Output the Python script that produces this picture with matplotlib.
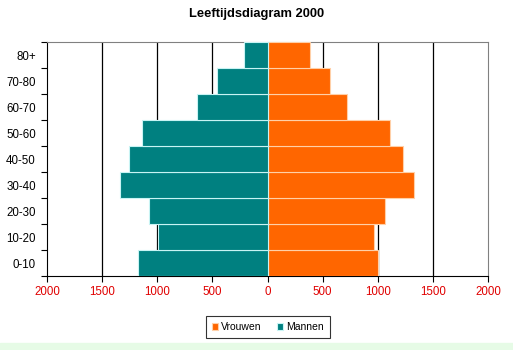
import numpy as np
import matplotlib.pyplot as plt
from matplotlib.patches import Rectangle

plt.rcParams['font.family'] = ['Liberation Sans', 'DejaVu Sans']

leeftijden = ['0-10', '10-20', '20-30', '30-40', '40-50', '50-60', '60-70', '70-80', '80+']
mannen = [1175, 992, 1075, 1335, 1255, 1135, 635, 455, 210]
vrouwen = [998, 965, 1065, 1328, 1228, 1115, 720, 565, 385]
xticks = [-2000, -1500, -1000, -500, 0, 500, 1000, 1500, 2000]

fig = plt.figure(figsize=(5.13, 3.5), dpi=100)
fig.patches.append(Rectangle((0, 0), 1, 0.02, transform=fig.transFigure,
                             color='#e6fbe6', zorder=0))
ax = fig.add_axes([0.0916, 0.2114, 0.8597, 0.6686])

y = np.arange(len(leeftijden))
ax.barh(y, vrouwen, height=1.0, color='#ff6600', edgecolor='#ffd0a8',
        linewidth=0.8, label='Vrouwen', zorder=3)
ax.barh(y, [-m for m in mannen], height=1.0, color='#008080', edgecolor='#c8f4f4',
        linewidth=0.8, label='Mannen', zorder=3)

ax.set_xlim(-2000, 2000)
ax.set_ylim(-0.5, len(leeftijden) - 0.5)
ax.set_xticks(xticks)
ax.set_xticklabels([str(abs(v)) for v in xticks], color='#e00000', fontsize=8.3)
ax.tick_params(axis='x', length=4, direction='out', width=0.8)
ax.set_yticks(y)
ax.set_yticklabels(leeftijden, fontsize=8.3)
ax.tick_params(axis='y', which='major', length=0, pad=8)
ax.set_yticks(np.arange(-0.5, len(leeftijden)), minor=True)
ax.tick_params(axis='y', which='minor', length=4, width=0.8)

for v in [-1500, -1000, -500, 500, 1000, 1500]:
    ax.axvline(v, color='black', linewidth=0.9, zorder=1)

ax.spines['left'].set_color('black')
ax.spines['bottom'].set_color('black')
ax.spines['top'].set_color('#808080')
ax.spines['right'].set_color('#808080')

fig.text(0.5, 0.96, 'Leeftijdsdiagram 2000', ha='center', va='center',
         fontsize=9.3, fontweight='bold')

leg = fig.legend(loc='center', bbox_to_anchor=(0.522, 0.066), ncol=2, fontsize=7.5,
                 frameon=True, fancybox=False, edgecolor='black', handlelength=0.6,
                 handleheight=0.6, handletextpad=0.3, columnspacing=1.4,
                 borderpad=0.6, borderaxespad=0)
leg.get_frame().set_linewidth(0.8)

fig.savefig('out.png', dpi=100)
